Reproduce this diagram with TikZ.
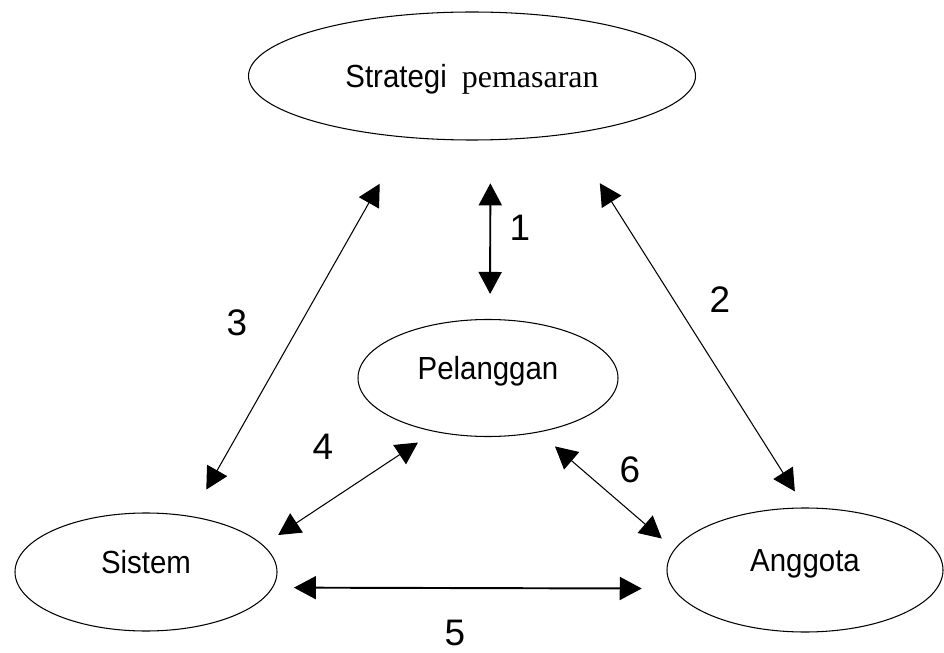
\documentclass[tikz,border=0pt]{standalone}
\usepackage{fontspec}
\setmainfont{Liberation Serif}
\newfontfamily\narrowsans[FakeStretch=0.92]{Liberation Sans}
\newfontfamily\digitsans{Liberation Sans}
\usetikzlibrary{shapes.geometric, arrows.meta}

\begin{document}
\begin{tikzpicture}[
        ellip/.style={ellipse, draw, line width=0.6pt, inner sep=1pt, text height=0.5cm, text depth=0.44cm, font=\narrowsans\fontsize{18.2pt}{20pt}\selectfont},
        biarrow/.style={{Triangle[length=0.44cm, width=0.46cm]}-{Triangle[length=0.44cm, width=0.46cm]}, line width=0.6pt},
        numlabel/.style={font=\digitsans\fontsize{21pt}{23pt}\selectfont, inner sep=0pt}]
      \useasboundingbox (0,0) rectangle (18.88,13.04);
      % Ellipses
      \node[ellip, minimum width=8.94cm, minimum height=2.56cm, text depth=0.04cm] (strat) at (9.44,11.52) {Strategi\hspace{0.3cm}{\rmfamily pemasaran}};
      \node[ellip, minimum width=5.2cm, minimum height=2.34cm] (pel) at (9.76,5.48) {Pelanggan};
      \node[ellip, minimum width=5.24cm, minimum height=2.36cm] (sis) at (2.92,1.6) {Sistem};
      \node[ellip, minimum width=5.52cm, minimum height=2.48cm] (ang) at (16.1,1.64) {Anggota};

      % Relations
      \draw[biarrow, line width=1.1pt, shorten <=0.86cm, shorten >=0.5cm] (strat.-74) -- (pel.88);
      \draw[biarrow, shorten <=1.16cm, shorten >=0.38cm] (strat.-31) -- (ang.90);
      \draw[biarrow, shorten <=1.06cm, shorten >=0.61cm] (strat.-137) -- (sis.51);
      \draw[biarrow, shorten <=0.36cm, shorten >=0.39cm] (sis.13) -- (pel.-135);
      \draw[biarrow, line width=1.1pt, shorten <=0.42cm, shorten >=0.62cm] (sis.-7) -- (ang.188);
      \draw[biarrow, shorten <=0.43cm, shorten >=0.33cm] (pel.-47) -- (ang.171);

      % Numbers
      \node[numlabel] (n1) at (10.4,8.48) {1};
      \node[numlabel] (n2) at (14.4,7.04) {2};
      \node[numlabel] (n3) at (4.74,6.58) {3};
      \node[numlabel] (n4) at (6.46,4.1) {4};
      \node[numlabel] (n5) at (9.1,0.38) {5};
      \node[numlabel] (n6) at (12.6,3.64) {6};
\end{tikzpicture}
\end{document}
